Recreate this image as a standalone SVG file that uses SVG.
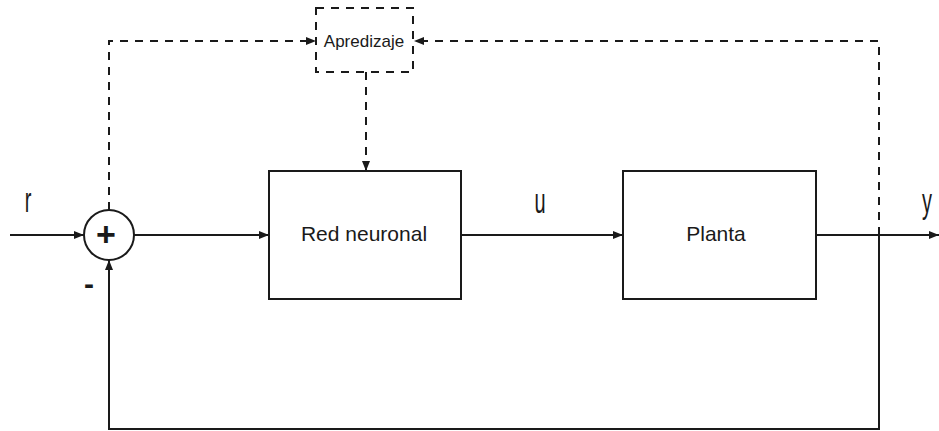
<svg xmlns="http://www.w3.org/2000/svg" width="939" height="431" viewBox="0 0 939 431">
<style>
.ln{fill:none;stroke:#1a1a1a;stroke-width:2}
.ds{fill:none;stroke:#1a1a1a;stroke-width:2;stroke-dasharray:8 7}
.box{fill:#fff;stroke:#1a1a1a;stroke-width:2}
.t{font-family:"Liberation Sans",Arial,sans-serif;fill:#1a1a1a}
</style>
<defs>
<marker id="ah" markerUnits="userSpaceOnUse" markerWidth="10" markerHeight="10" viewBox="0 0 10 10" refX="10" refY="5" orient="auto">
<path d="M0,1 L10,5 L0,9 z" fill="#1a1a1a"/>
</marker>
</defs>
<rect width="939" height="431" fill="#fff"/>
<g id="connectors">
<path class="ln" d="M10,235 H84" marker-end="url(#ah)"/>
<path class="ln" d="M134,235 H269" marker-end="url(#ah)"/>
<path class="ln" d="M461,235 H623" marker-end="url(#ah)"/>
<path class="ln" d="M816,235 H939" marker-end="url(#ah)"/>
<path class="ln" d="M879,235 V429 H109 V260" marker-end="url(#ah)"/>
<path class="ds" d="M879,235 V41 H414" marker-end="url(#ah)"/>
<path class="ds" d="M109,210 V41 H316" marker-end="url(#ah)"/>
<path class="ds" d="M366,72 V171" marker-end="url(#ah)"/>
</g>
<g id="sum">
<circle cx="109" cy="235" r="25" class="box"/>
<text class="t" x="106" y="246" font-size="34" font-weight="bold" text-anchor="middle">+</text>
<text class="t" x="89" y="294" font-size="30" font-weight="bold" text-anchor="middle">-</text>
</g>
<g id="red">
<rect x="269" y="171" width="192" height="128" class="box"/>
<text class="t" x="364" y="241" font-size="21" text-anchor="middle">Red neuronal</text>
</g>
<g id="planta">
<rect x="623" y="171" width="193" height="128" class="box"/>
<text class="t" x="716" y="241" font-size="21" text-anchor="middle">Planta</text>
</g>
<g id="apredizaje">
<rect x="316" y="8" width="97" height="64" class="box" style="stroke-dasharray:8 7"/>
<text class="t" x="364" y="47" font-size="17" text-anchor="middle">Apredizaje</text>
</g>
<g id="labels">
<text class="t" transform="translate(28,212) scale(1,1.75)" font-size="20" text-anchor="middle">r</text>
<text class="t" transform="translate(540,213) scale(1,1.75)" font-size="20" text-anchor="middle">u</text>
<text class="t" transform="translate(927,213) scale(1,1.75)" font-size="20" text-anchor="middle">y</text>
</g>
</svg>
